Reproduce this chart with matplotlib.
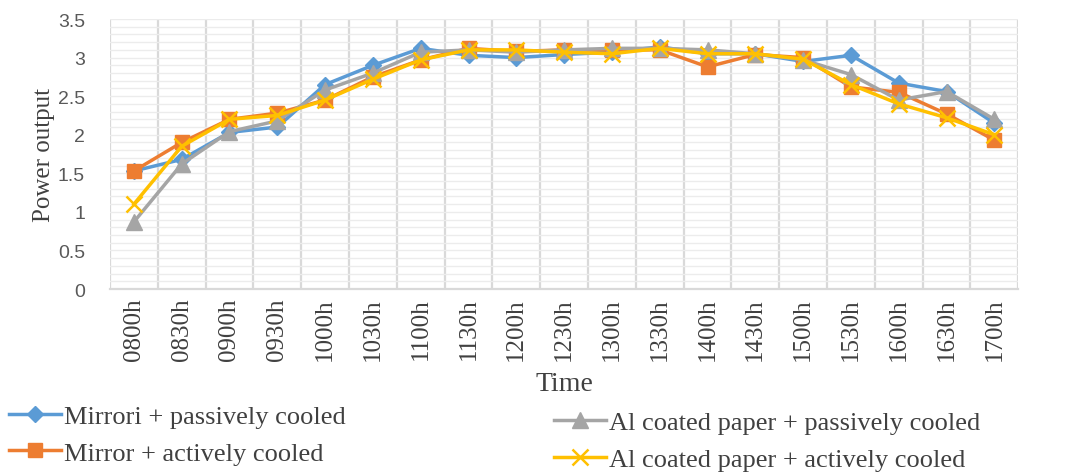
import matplotlib.pyplot as plt
import numpy as np
from matplotlib.ticker import MultipleLocator, FixedLocator

# --- data ---
times = ["0800h", "0830h", "0900h", "0930h", "1000h", "1030h", "1100h",
         "1130h", "1200h", "1230h", "1300h", "1330h", "1400h", "1430h",
         "1500h", "1530h", "1600h", "1630h", "1700h"]

mirror_passive = [1.53, 1.68, 2.03, 2.10, 2.65, 2.90, 3.12, 3.03, 3.00, 3.04,
                  3.07, 3.14, 3.05, 3.05, 2.95, 3.03, 2.67, 2.56, 2.15]
mirror_active = [1.53, 1.90, 2.20, 2.28, 2.45, 2.75, 2.97, 3.12, 3.08, 3.10,
                 3.10, 3.10, 2.88, 3.04, 3.00, 2.62, 2.55, 2.27, 1.93]
al_passive = [0.87, 1.62, 2.04, 2.18, 2.58, 2.80, 3.07, 3.10, 3.07, 3.10,
              3.12, 3.12, 3.10, 3.05, 2.97, 2.78, 2.45, 2.56, 2.20]
al_active = [1.10, 1.85, 2.20, 2.25, 2.45, 2.72, 2.97, 3.10, 3.10, 3.07,
             3.05, 3.12, 3.05, 3.05, 2.98, 2.65, 2.40, 2.22, 2.00]

labels = ["Mirrori + passively cooled", "Mirror + actively cooled",
          "Al coated paper + passively cooled", "Al coated paper + actively cooled"]

serif = "Liberation Serif"
sans = "Liberation Sans"
text_color = "#404040"

fig = plt.figure(figsize=(10.73, 4.77), dpi=100)
ax = fig.add_axes([0.1025, 0.392, 0.8465, 0.566])

x = np.arange(len(times))
lw = 2.5
l1, = ax.plot(x, mirror_passive, color="#5B9BD5", lw=lw, marker="D", ms=8,
              label=labels[0], zorder=3)
l2, = ax.plot(x, mirror_active, color="#ED7D31", lw=lw, marker="s", ms=10.5,
              label=labels[1], zorder=4)
l3, = ax.plot(x, al_passive, color="#A5A5A5", lw=lw, marker="^", ms=11,
              label=labels[2], zorder=5)
l4, = ax.plot(x, al_active, color="#FFC000", lw=lw, marker="x", ms=11,
              mew=1.8, label=labels[3], zorder=6)

ax.set_xlim(-0.5, len(times) - 0.5)
ax.set_ylim(0, 3.5)

# grid: fine horizontal lines, vertical lines between time slots
ax.yaxis.set_major_locator(MultipleLocator(0.5))
ax.yaxis.set_minor_locator(MultipleLocator(0.1))
ax.xaxis.set_major_locator(FixedLocator(x))
ax.xaxis.set_minor_locator(FixedLocator(np.arange(-0.5, len(times), 1.0)))
ax.grid(which="both", axis="y", color="#ececec", lw=1.0)
ax.grid(which="minor", axis="x", color="#d9d9d9", lw=1.6)
ax.set_axisbelow(True)
for s in ["top", "right", "left"]:
    ax.spines[s].set_visible(False)
ax.spines["bottom"].set_color("#d9d9d9")
ax.spines["bottom"].set_linewidth(1.6)

ax.tick_params(which="both", length=0)
ax.set_xticks(x)
ax.set_xticklabels(times, rotation=90, fontsize=18, fontfamily=serif,
                   color=text_color)
ax.tick_params(axis="x", pad=6)
for t in ax.get_yticklabels():
    t.set_fontfamily(sans)
ax.tick_params(axis="y", labelsize=14, labelcolor="#595959", pad=18)
ax.yaxis.set_major_formatter(plt.FuncFormatter(lambda v, p: f"{v:g}"))

ax.set_ylabel("Power output", fontsize=18, fontfamily=serif, color=text_color,
              labelpad=2)
ax.set_xlabel("Time", fontsize=20, fontfamily=serif, color=text_color,
              labelpad=8)

leg_kw = dict(frameon=False, handlelength=2.0, handletextpad=0.1,
              labelspacing=0.5, borderaxespad=0, borderpad=0,
              prop={"family": serif, "size": 19})
lg1 = fig.legend([l1, l2], labels[:2], loc="upper left",
                 bbox_to_anchor=(0.008, 0.15), **leg_kw)
lg2 = fig.legend([l3, l4], labels[2:], loc="upper left",
                 bbox_to_anchor=(0.516, 0.137), **leg_kw)
for lg in (lg1, lg2):
    for t in lg.get_texts():
        t.set_color(text_color)

fig.savefig("out.png", dpi=100)
